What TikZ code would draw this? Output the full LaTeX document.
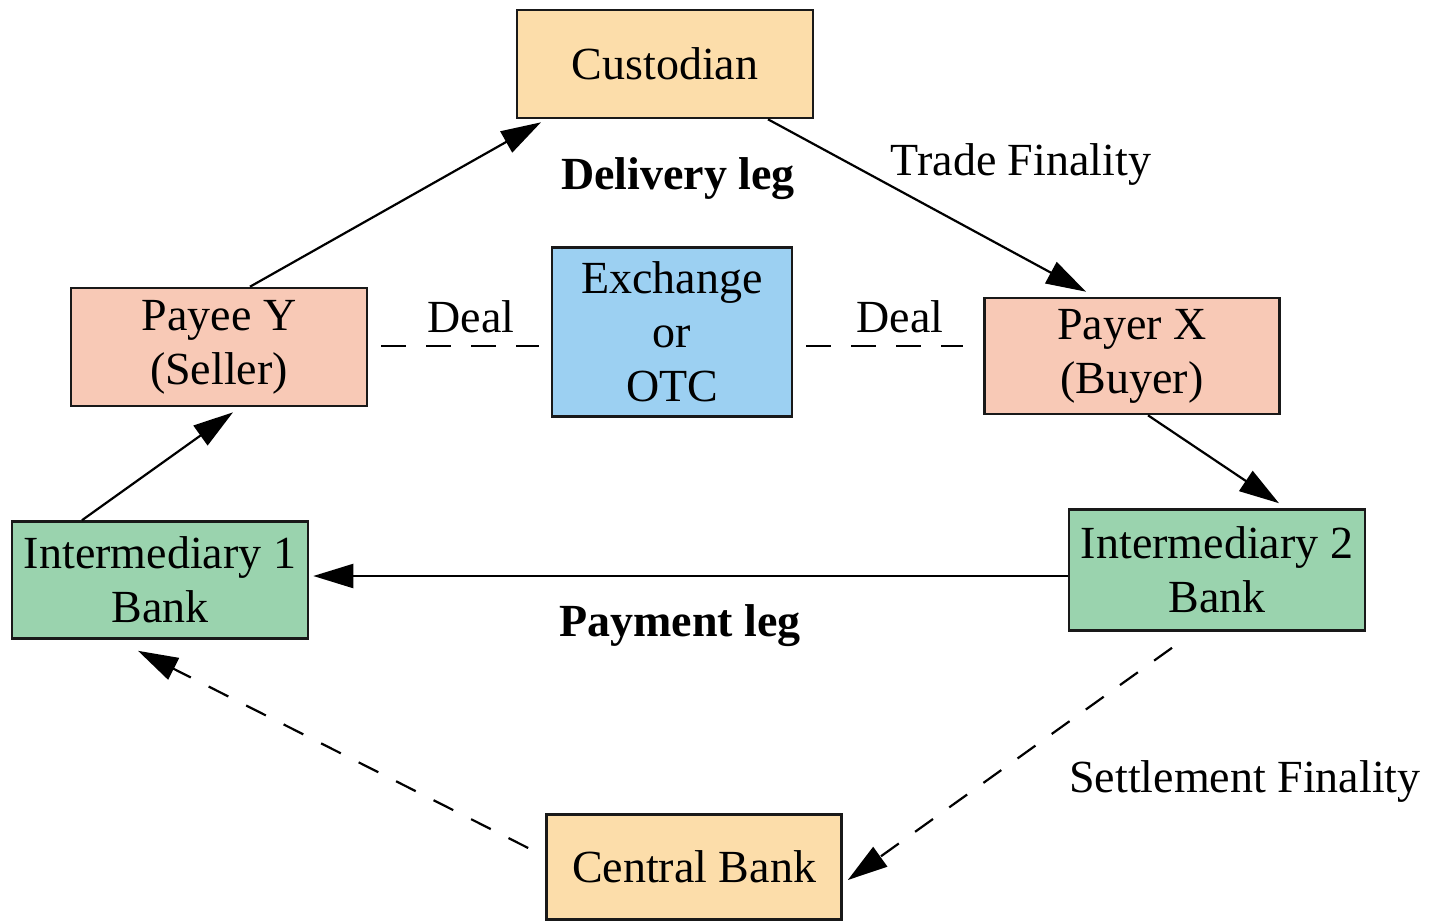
\documentclass[tikz,border=0pt]{standalone}
\usepackage{fontspec}
\setmainfont{Liberation Serif}
\usetikzlibrary{arrows.meta}
\definecolor{boxorange}{HTML}{FCDDAA}
\definecolor{boxpink}{HTML}{F8C9B6}
\definecolor{boxblue}{HTML}{9CD0F2}
\definecolor{boxgreen}{HTML}{9AD3AE}
\tikzset{
  party/.style={draw=black!90, line width=2.6pt, align=center, inner sep=0pt,
    minimum width=296pt, font=\fontsize{46}{54}\selectfont},
  lbl/.style={anchor=base, font=\fontsize{46}{54}\selectfont},
  flow/.style={line width=2.2pt, -{Triangle[length=40pt,width=24pt]}},
  dflow/.style={flow, dash pattern=on 22pt off 20pt},
  deal/.style={line width=2.2pt, dash pattern=on 25pt off 20pt},
}
\begin{document}
\begin{tikzpicture}[x=1pt,y=-1pt]
\useasboundingbox (0,0) rectangle (1435,922);

% parties
\node[party, fill=boxorange, minimum height=108pt] (cust) at (665,64) {Custodian};
\node[party, fill=boxpink, minimum height=118pt] (payee) at (219,347) {Payee Y\\(Seller)};
\node[party, fill=boxblue, minimum width=240pt, minimum height=169pt] (exch) at (672,332) {Exchange\\or\\OTC};
\node[party, fill=boxpink, minimum width=295pt, minimum height=116pt] (payer) at (1132,356) {Payer X\\(Buyer)};
\node[party, fill=boxgreen, minimum height=117pt] (int1) at (160,580) {Intermediary 1\\Bank};
\node[party, fill=boxgreen, minimum height=121pt] (int2) at (1217,570) {Intermediary 2\\Bank};
\node[party, fill=boxorange, minimum width=295pt, minimum height=105pt] (cb) at (694,867) {Central Bank};

% delivery and payment flows
\draw[flow] ([xshift=31pt]payee.north) -- ([xshift=-124pt,yshift=-3pt]cust.south);
\draw[flow] ([xshift=103pt]cust.south) -- ([xshift=-46pt,yshift=5pt]payer.north);
\draw[flow] ([xshift=16pt]payer.south) -- ([xshift=62pt,yshift=5pt]int2.north);
\draw[flow] ([yshift=-6pt]int2.west) -- ([xshift=4pt,yshift=4pt]int1.east);
\draw[flow] ([xshift=-78pt]int1.north) -- ([xshift=14pt,yshift=-5pt]payee.south);

% settlement via the central bank
\draw[dflow] ([xshift=-45pt,yshift=-16pt]int2.south) -- ([xshift=5pt,yshift=-13pt]cb.east);
\draw[dflow] ([xshift=-17pt,yshift=19pt]cb.west) -- ([xshift=-22pt,yshift=-11pt]int1.south);

% deals struck on the exchange
\draw[deal] ([xshift=13pt,yshift=1pt]payee.east) -- ([xshift=-12pt,yshift=-14pt]exch.west);
\draw[deal] ([xshift=13pt,yshift=-14pt]exch.east) -- ([xshift=-20pt,yshift=10pt]payer.west);

% labels
\node[lbl, font=\fontsize{46}{54}\selectfont\bfseries] (dl) at (678,189) {Delivery leg};
\node[lbl] (tf) at (1021,175) {Trade Finality};
\node[lbl] (d1) at (471,332) {Deal};
\node[lbl] (d2) at (900,332) {Deal};
\node[lbl, font=\fontsize{46}{54}\selectfont\bfseries] (pl) at (680,636) {Payment leg};
\node[lbl] (sf) at (1245,792) {Settlement Finality};
\end{tikzpicture}
\end{document}
